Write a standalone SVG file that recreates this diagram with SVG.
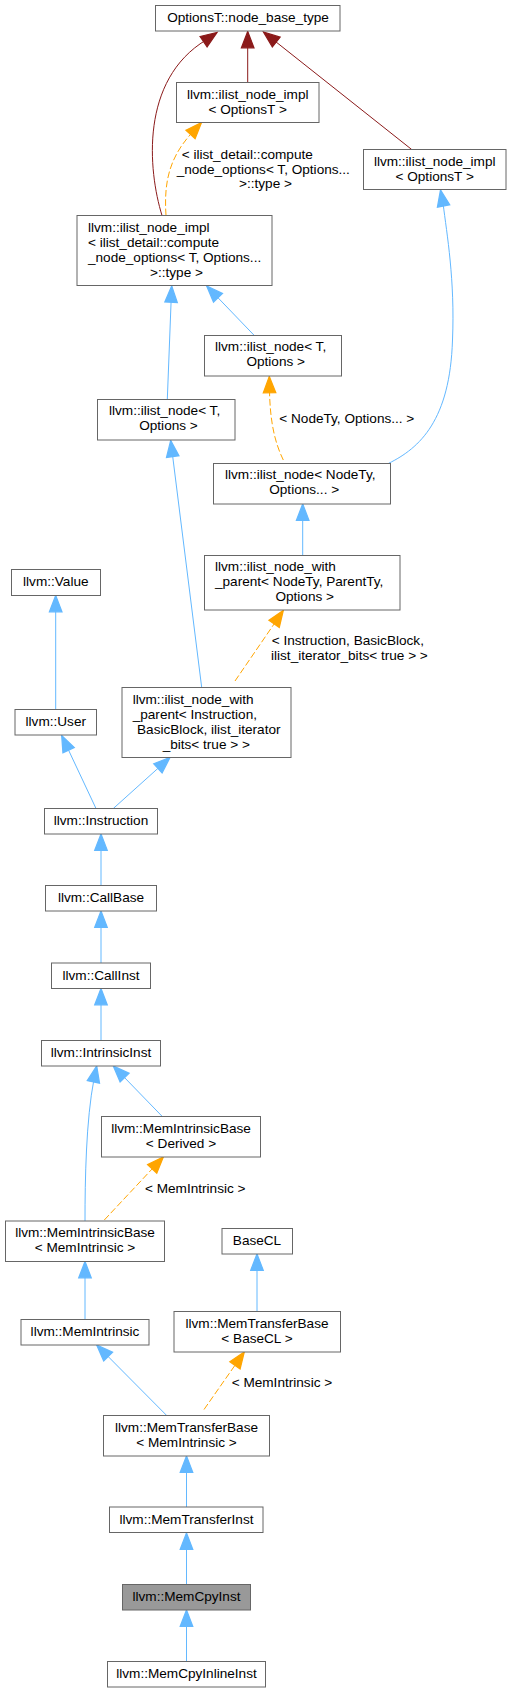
<svg xmlns="http://www.w3.org/2000/svg" width="512" height="1693" viewBox="0 0 512 1693">
<style>
.n rect{fill:#fff;stroke:#666;stroke-width:1}
.n.cur rect{fill:#999}
text{font-family:"Liberation Sans",Arial,Helvetica,sans-serif;font-size:13.6px;fill:#000}
.c{text-anchor:middle}
.e path{fill:none;stroke-width:1}
.red{stroke:#8b1a1a}
.blue{stroke:#63b8ff}
.org{stroke:#ffa500;stroke-dasharray:6.7,2.7}
</style>
<defs>
<marker id="ar" markerUnits="userSpaceOnUse" orient="auto" refX="13" refY="0" markerWidth="20" markerHeight="20" viewBox="-1 -7 16 14" overflow="visible"><path d="M0,-5L13,0L0,5z" fill="#8b1a1a" stroke="#8b1a1a" stroke-dasharray="none"/></marker>
<marker id="ab" markerUnits="userSpaceOnUse" orient="auto" refX="13" refY="0" markerWidth="20" markerHeight="20" viewBox="-1 -7 16 14" overflow="visible"><path d="M0,-5L13,0L0,5z" fill="#63b8ff" stroke="#63b8ff" stroke-dasharray="none"/></marker>
<marker id="ao" markerUnits="userSpaceOnUse" orient="auto" refX="13" refY="0" markerWidth="20" markerHeight="20" viewBox="-1 -7 16 14" overflow="visible"><path d="M0,-5L13,0L0,5z" fill="#ffa500" stroke="#ffa500" stroke-dasharray="none"/></marker>
</defs>

<g id="edges" class="e">
<path class="red" marker-end="url(#ar)" d="M162,215.5C148,170 140,80 206,40L217,32.5"/>
<path class="red" marker-end="url(#ar)" d="M247.7,82.5L247.7,31.5"/>
<path class="red" marker-end="url(#ar)" d="M411.7,149.5L263.5,32"/>
<path class="org" marker-end="url(#ao)" d="M166,215.5C164,185 168,160 190,135L201.5,122.5"/>
<path class="blue" marker-end="url(#ab)" d="M388.3,463.5C420,448 450,420 452.5,340C455,280 447,235 443,203L440.5,190"/>
<path class="blue" marker-end="url(#ab)" d="M167.3,399.5L171.7,286"/>
<path class="blue" marker-end="url(#ab)" d="M254.3,335.5L206.7,286"/>
<path class="org" marker-end="url(#ao)" d="M283.3,460C276,445 270,425 269.5,390L269.3,376.5"/>
<path class="blue" marker-end="url(#ab)" d="M201.7,687.5L170.7,440.5"/>
<path class="blue" marker-end="url(#ab)" d="M302.7,555.5L302.7,504"/>
<path class="org" marker-end="url(#ao)" d="M235,681L283.3,610.5"/>
<path class="blue" marker-end="url(#ab)" d="M55.7,709.5L55.7,595.5"/>
<path class="blue" marker-end="url(#ab)" d="M96,808.5L61.7,735.5"/>
<path class="blue" marker-end="url(#ab)" d="M113.3,808.5L170,757.5"/>
<path class="blue" marker-end="url(#ab)" d="M101,885.5L101,834"/>
<path class="blue" marker-end="url(#ab)" d="M101,963L101,911"/>
<path class="blue" marker-end="url(#ab)" d="M101,1040.5L101,988.5"/>
<path class="blue" marker-end="url(#ab)" d="M162.3,1116.5L113.3,1066"/>
<path class="blue" marker-end="url(#ab)" d="M85,1221C85,1180 86,1120 94,1079L96.7,1066"/>
<path class="org" marker-end="url(#ao)" d="M104.3,1220L163.3,1157"/>
<path class="blue" marker-end="url(#ab)" d="M85,1319.5L85,1261.5"/>
<path class="blue" marker-end="url(#ab)" d="M257,1311.5L257,1254"/>
<path class="blue" marker-end="url(#ab)" d="M166.7,1415.5L96.7,1345"/>
<path class="org" marker-end="url(#ao)" d="M204,1409.5L244.3,1352"/>
<path class="blue" marker-end="url(#ab)" d="M186.5,1507L186.5,1456"/>
<path class="blue" marker-end="url(#ab)" d="M186.5,1584.5L186.5,1533"/>
<path class="blue" marker-end="url(#ab)" d="M186.5,1661.5L186.5,1610"/>
<text x="181.7" y="158.7">&lt; ilist_detail::compute</text>
<text x="176.7" y="173.5">_node_options&lt; T, Options...</text>
<text x="265.5" y="188" class="c">&gt;::type &gt;</text>
<text x="279.3" y="423">&lt; NodeTy, Options... &gt;</text>
<text x="271.7" y="645.3">&lt; Instruction, BasicBlock,</text>
<text x="271" y="660.3">ilist_iterator_bits&lt; true &gt; &gt;</text>
<text x="145" y="1193">&lt; MemIntrinsic &gt;</text>
<text x="231.7" y="1387.3">&lt; MemIntrinsic &gt;</text>
</g>

<g id="n_base" class="n"><rect x="155.5" y="5.5" width="184.5" height="25.5"/><text x="248" y="22" class="c">OptionsT::node_base_type</text></g>
<g id="n_implMid" class="n"><rect x="176.5" y="82.5" width="142.5" height="40"/><text x="247.7" y="99" class="c">llvm::ilist_node_impl</text><text x="247.7" y="114" class="c">&lt; OptionsT &gt;</text></g>
<g id="n_implRight" class="n"><rect x="363.5" y="149.5" width="142.5" height="40"/><text x="434.7" y="166" class="c">llvm::ilist_node_impl</text><text x="434.7" y="181" class="c">&lt; OptionsT &gt;</text></g>
<g id="n_implBig" class="n"><rect x="77" y="215.5" width="195" height="70"/><text x="88" y="231.5">llvm::ilist_node_impl</text><text x="88" y="246.5">&lt; ilist_detail::compute</text><text x="88" y="261.5">_node_options&lt; T, Options...</text><text x="176.5" y="276.5" class="c">&gt;::type &gt;</text></g>
<g id="n_nodeTOptR" class="n"><rect x="204.5" y="335.5" width="137" height="40.5"/><text x="215" y="351">llvm::ilist_node&lt; T,</text><text x="275.7" y="366" class="c">Options &gt;</text></g>
<g id="n_nodeTOptL" class="n"><rect x="97.5" y="399.5" width="137.5" height="40.5"/><text x="109" y="415">llvm::ilist_node&lt; T,</text><text x="168.5" y="430" class="c">Options &gt;</text></g>
<g id="n_nodeNodeTy" class="n"><rect x="213.5" y="463.5" width="177" height="40.5"/><text x="225" y="479">llvm::ilist_node&lt; NodeTy,</text><text x="304.2" y="494" class="c">Options... &gt;</text></g>
<g id="n_withParentNodeTy" class="n"><rect x="204.5" y="555.5" width="195.5" height="54.5"/><text x="215" y="571">llvm::ilist_node_with</text><text x="215" y="586">_parent&lt; NodeTy, ParentTy,</text><text x="304.7" y="601" class="c">Options &gt;</text></g>
<g id="n_value" class="n"><rect x="11.5" y="569.5" width="89" height="26"/><text x="55.8" y="586" class="c">llvm::Value</text></g>
<g id="n_user" class="n"><rect x="15" y="709.5" width="81.5" height="25.5"/><text x="55.8" y="726" class="c">llvm::User</text></g>
<g id="n_withParentInstr" class="n"><rect x="122" y="687.5" width="169" height="70"/><text x="132.7" y="703.5">llvm::ilist_node_with</text><text x="132.7" y="718.5">_parent&lt; Instruction,</text><text x="137" y="733.5">BasicBlock, ilist_iterator</text><text x="206.3" y="748.5" class="c">_bits&lt; true &gt; &gt;</text></g>
<g id="n_instruction" class="n"><rect x="44.5" y="808.5" width="113" height="25.5"/><text x="101" y="825" class="c">llvm::Instruction</text></g>
<g id="n_callbase" class="n"><rect x="45.5" y="885.5" width="111" height="25.5"/><text x="101" y="902" class="c">llvm::CallBase</text></g>
<g id="n_callinst" class="n"><rect x="51.5" y="963" width="99" height="25.5"/><text x="101" y="979.5" class="c">llvm::CallInst</text></g>
<g id="n_intrinsicinst" class="n"><rect x="41.5" y="1040.5" width="119" height="25.5"/><text x="101" y="1056.5" class="c">llvm::IntrinsicInst</text></g>
<g id="n_mibDerived" class="n"><rect x="101.5" y="1116.5" width="159" height="40.5"/><text x="181" y="1132.5" class="c">llvm::MemIntrinsicBase</text><text x="181" y="1147.5" class="c">&lt; Derived &gt;</text></g>
<g id="n_mibMemIntr" class="n"><rect x="5.5" y="1221" width="159" height="40.5"/><text x="85" y="1237" class="c">llvm::MemIntrinsicBase</text><text x="85" y="1252" class="c">&lt; MemIntrinsic &gt;</text></g>
<g id="n_basecl" class="n"><rect x="222" y="1228.5" width="70.5" height="25.5"/><text x="257" y="1245" class="c">BaseCL</text></g>
<g id="n_memintrinsic" class="n"><rect x="21" y="1319.5" width="128" height="25.5"/><text x="85" y="1336" class="c">llvm::MemIntrinsic</text></g>
<g id="n_mtbBaseCL" class="n"><rect x="174" y="1311.5" width="166.5" height="40.5"/><text x="257" y="1327.5" class="c">llvm::MemTransferBase</text><text x="257" y="1342.5" class="c">&lt; BaseCL &gt;</text></g>
<g id="n_mtbMemIntr" class="n"><rect x="103.5" y="1415.5" width="166" height="40.5"/><text x="186.5" y="1431.5" class="c">llvm::MemTransferBase</text><text x="186.5" y="1446.5" class="c">&lt; MemIntrinsic &gt;</text></g>
<g id="n_memtransferinst" class="n"><rect x="109.5" y="1507" width="153.5" height="25.5"/><text x="186.5" y="1523.5" class="c">llvm::MemTransferInst</text></g>
<g id="n_memcpyinst" class="n cur"><rect x="122.5" y="1584.5" width="128" height="25.5"/><text x="186.5" y="1601" class="c">llvm::MemCpyInst</text></g>
<g id="n_memcpyinlineinst" class="n"><rect x="107.5" y="1661.5" width="158" height="25.5"/><text x="186.5" y="1678" class="c">llvm::MemCpyInlineInst</text></g>
</svg>
